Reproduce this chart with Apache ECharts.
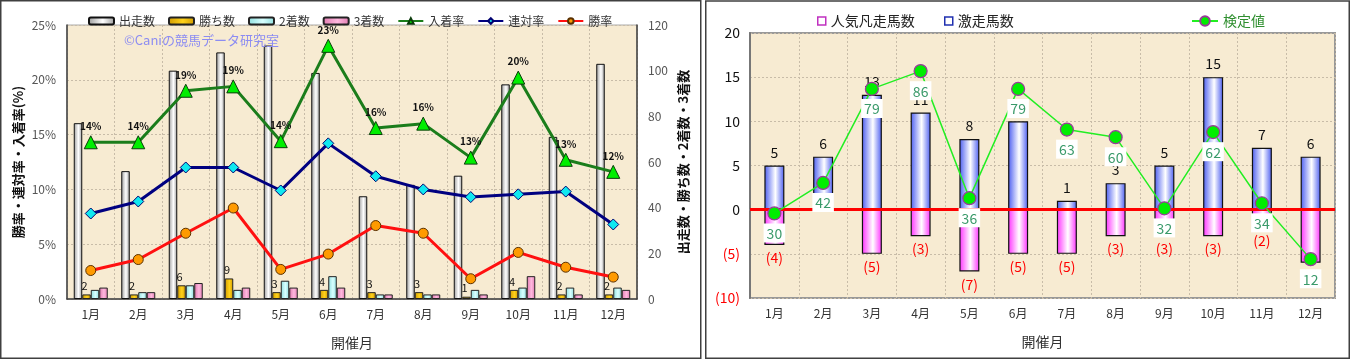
<!DOCTYPE html>
<html><head><meta charset="utf-8">
<script src="https://cdn.jsdelivr.net/npm/echarts@6/dist/echarts.min.js"></script>
<style>html,body{margin:0;padding:0;background:#fff}#c{width:1351px;height:360px}</style>
</head><body><div id="c"></div>
<script>
// ---- data: left chart ----
const months = ['1月','2月','3月','4月','5月','6月','7月','8月','9月','10月','11月','12月'];
const starts  = [77, 56, 100, 108, 111, 99, 45, 50, 54, 94, 71, 103];
const wins    = [2, 2, 6, 9, 3, 4, 3, 3, 1, 4, 2, 2];
const seconds = [4, 3, 6, 4, 8, 10, 2, 2, 4, 5, 5, 5];
const thirds  = [5, 3, 7, 5, 5, 5, 2, 2, 2, 10, 2, 4];
const placeRate  = [14.3, 14.3, 19.0, 19.4, 14.4, 23.1, 15.6, 16.0, 12.9, 20.2, 12.7, 11.6];
const rentaiRate = [7.8, 8.9, 12.0, 12.0, 9.9, 14.2, 11.2, 10.0, 9.3, 9.55, 9.8, 6.8];
const winRate    = [2.6, 3.6, 6.0, 8.3, 2.7, 4.1, 6.7, 6.0, 1.85, 4.25, 2.9, 2.0];
// ---- data: right chart ----
const gekisou     = [5, 6, 13, 11, 8, 10, 1, 3, 5, 15, 7, 6];
const ninkiBonsou = [-4, 0, -5, -3, -7, -5, -5, -3, -3, -3, -2, -6];
const kenteichi   = [30, 42, 79, 86, 36, 79, 63, 60, 32, 62, 34, 12];

const FONT = 'Noto Sans CJK JP';
const BG = '#f7ebd2';
const hGrad = (edge, mid) => new echarts.graphic.LinearGradient(0, 0, 1, 0, [
  {offset: 0, color: edge}, {offset: 0.55, color: mid}, {offset: 1, color: edge}]);

const chart = echarts.init(document.getElementById('c'), null, {renderer: 'canvas'});
const gridLine = {show: true, lineStyle: {color: '#c8bca8', type: [2, 2], width: 1}};

chart.setOption({
  animation: false,
  textStyle: {fontFamily: FONT},
  graphic: [
    {type: 'rect', shape: {x: 0.75, y: 0.75, width: 700, height: 357.5}, style: {fill: 'none', stroke: '#404040', lineWidth: 1.5}, z: 100},
    {type: 'rect', shape: {x: 705.75, y: 1, width: 643.5, height: 357.25}, style: {fill: 'none', stroke: '#404040', lineWidth: 1.5}, z: 100},
    {type: 'text', left: 124, top: 34, z: 50, style: {text: '©Caniの競馬データ研究室', fill: '#8c8cf2', font: '13px "Noto Sans CJK JP"'}}
  ],
  legend: [
    {left: 83, top: 10, itemWidth: 25, itemHeight: 7, itemGap: 13,
     textStyle: {fontSize: 12, color: '#333', fontFamily: FONT},
     data: [{name: '出走数', icon: 'roundRect'}, {name: '勝ち数', icon: 'roundRect'}, {name: '2着数', icon: 'roundRect'}, {name: '3着数', icon: 'roundRect'}, '入着率', '連対率', '勝率']},
    {left: 812, top: 9, itemWidth: 8, itemHeight: 8, icon: 'rect',
     textStyle: {fontSize: 14, color: '#222', fontFamily: FONT},
     data: [{name: '人気凡走馬数', itemStyle: {color: '#fff', borderColor: '#c030c0', borderWidth: 1.5}}]},
    {left: 939, top: 9, itemWidth: 8, itemHeight: 8, icon: 'rect',
     textStyle: {fontSize: 14, color: '#222', fontFamily: FONT},
     data: [{name: '激走馬数', itemStyle: {color: '#fff', borderColor: '#2030b0', borderWidth: 1.5}}]},
    {left: 1186, top: 9, itemWidth: 26, itemHeight: 12,
     textStyle: {fontSize: 14, color: '#2f8f2f', fontFamily: FONT},
     data: ['検定値']}
  ],
  grid: [
    {left: 67, top: 25, width: 570, height: 274, show: true, backgroundColor: BG, borderColor: '#aaa', borderWidth: 1},
    {left: 750, top: 33, width: 585, height: 265, show: true, backgroundColor: BG, borderColor: '#999', borderWidth: 2}
  ],
  xAxis: [
    {type: 'category', gridIndex: 0, data: months,
     axisLine: {lineStyle: {color: '#404040', width: 1.5}}, axisTick: {show: false},
     axisLabel: {color: '#333', fontSize: 12, margin: 9},
     splitLine: gridLine,
     name: '開催月', nameLocation: 'middle', nameGap: 37, nameTextStyle: {fontSize: 14, color: '#333'}},
    {type: 'category', gridIndex: 1, data: months,
     axisLine: {lineStyle: {color: '#888', width: 2}}, axisTick: {show: false},
     axisLabel: {color: '#333', fontSize: 12, margin: 9},
     splitLine: gridLine,
     name: '開催月', nameLocation: 'middle', nameGap: 37, nameTextStyle: {fontSize: 14, color: '#333'}}
  ],
  yAxis: [
    {type: 'value', gridIndex: 0, min: 0, max: 25, interval: 5,
     axisLine: {show: true, lineStyle: {color: '#404040', width: 1.5}}, axisTick: {show: false},
     axisLabel: {formatter: '{value}%', color: '#555', fontSize: 12, margin: 11},
     splitLine: gridLine,
     name: '勝率・連対率・入着率(%)', nameLocation: 'middle', nameGap: 42,
     nameTextStyle: {fontSize: 13, color: '#111', fontWeight: 'bold'}},
    {type: 'value', gridIndex: 0, min: 0, max: 120, interval: 20, position: 'right',
     axisLine: {show: true, lineStyle: {color: '#404040', width: 1.5}}, axisTick: {show: false},
     axisLabel: {color: '#555', fontSize: 12, margin: 11},
     splitLine: {show: false},
     name: '出走数・勝ち数・2着数・3着数', nameLocation: 'middle', nameGap: 40,
     nameTextStyle: {fontSize: 13, color: '#111', fontWeight: 'bold'}},
    {type: 'value', gridIndex: 1, min: -10, max: 20, interval: 5,
     axisLine: {show: true, lineStyle: {color: '#777', width: 2}}, axisTick: {show: false},
     axisLabel: {fontSize: 14, margin: 10,
       formatter: v => v < 0 ? '(' + (-v) + ')' : String(v),
       color: v => (Number(v) < 0 ? '#ff0000' : '#111')},
     splitLine: gridLine},
    {type: 'value', gridIndex: 1, min: -3.3, max: 101, show: false, splitLine: {show: false}}
  ],
  series: [
    {name: '出走数', type: 'bar', xAxisIndex: 0, yAxisIndex: 1, data: starts, barWidth: 8.5, barGap: '0%',
     itemStyle: {color: hGrad('#9a9a9a', '#ffffff'), borderColor: '#111', borderWidth: 1}},
    {name: '勝ち数', type: 'bar', xAxisIndex: 0, yAxisIndex: 1, data: wins, barWidth: 8.5, barGap: '0%',
     itemStyle: {color: hGrad('#d09a00', '#ffd21a'), borderColor: '#222', borderWidth: 1},
     label: {show: true, position: 'top', distance: 3, offset: [-2, 0], fontSize: 11, color: '#111'}},
    {name: '2着数', type: 'bar', xAxisIndex: 0, yAxisIndex: 1, data: seconds, barWidth: 8.5, barGap: '0%',
     itemStyle: {color: hGrad('#8fdede', '#d8ffff'), borderColor: '#222', borderWidth: 1}},
    {name: '3着数', type: 'bar', xAxisIndex: 0, yAxisIndex: 1, data: thirds, barWidth: 8.5, barGap: '0%',
     itemStyle: {color: hGrad('#e07ab0', '#ffb8de'), borderColor: '#222', borderWidth: 1}},
    {name: '入着率', type: 'line', xAxisIndex: 0, yAxisIndex: 0, data: placeRate, z: 5,
     symbol: 'triangle', symbolSize: 13,
     itemStyle: {color: '#00ee00', borderColor: '#0b3b0b', borderWidth: 1},
     lineStyle: {color: '#1b7d1b', width: 3},
     label: {show: true, position: 'top', distance: 4, fontSize: 10, fontWeight: 'bold', color: '#111',
       formatter: p => Math.round(p.value) + '%'}},
    {name: '連対率', type: 'line', xAxisIndex: 0, yAxisIndex: 0, data: rentaiRate, z: 5,
     symbol: 'diamond', symbolSize: 11,
     itemStyle: {color: '#10e8f0', borderColor: '#000070', borderWidth: 1},
     lineStyle: {color: '#000080', width: 3}},
    {name: '勝率', type: 'line', xAxisIndex: 0, yAxisIndex: 0, data: winRate, z: 5,
     symbol: 'circle', symbolSize: 10,
     itemStyle: {color: '#ff9a00', borderColor: '#5a3000', borderWidth: 1},
     lineStyle: {color: '#ff1010', width: 3}},
    // right chart
    {name: '激走馬数', type: 'bar', xAxisIndex: 1, yAxisIndex: 2, data: gekisou, barWidth: 20, barGap: '-100%', z: 2,
     itemStyle: {color: hGrad('#4a5cf0', '#ffffff'), borderColor: '#111', borderWidth: 1.2},
     label: {show: true, position: 'top', distance: 6, fontSize: 14, color: '#111'},
     markLine: {silent: true, symbol: 'none', label: {show: false},
       lineStyle: {color: '#ff0000', width: 3, type: 'solid'}, data: [{yAxis: 0}]}},
    {name: '人気凡走馬数', type: 'bar', xAxisIndex: 1, yAxisIndex: 2, data: ninkiBonsou, barWidth: 20, barGap: '-100%', z: 2,
     itemStyle: {color: hGrad('#ff30ff', '#ffffff'), borderColor: '#111', borderWidth: 1.2},
     label: {show: true, position: 'bottom', distance: 6, fontSize: 14, color: '#ff0000',
       formatter: p => p.value === 0 ? '' : '(' + (-p.value) + ')'}},
    {name: '検定値', type: 'line', xAxisIndex: 1, yAxisIndex: 3, data: kenteichi, z: 10,
     symbol: 'circle', symbolSize: 13,
     itemStyle: {color: '#00ee00', borderColor: '#9a3a9a', borderWidth: 1.2},
     lineStyle: {color: '#22ee22', width: 1.5},
     label: {show: true, position: 'bottom', distance: 3, fontSize: 14, color: '#3a9a6a',
       backgroundColor: '#ffffff', padding: [3, 3, 2, 3]}}
  ]
});
</script></body></html>
